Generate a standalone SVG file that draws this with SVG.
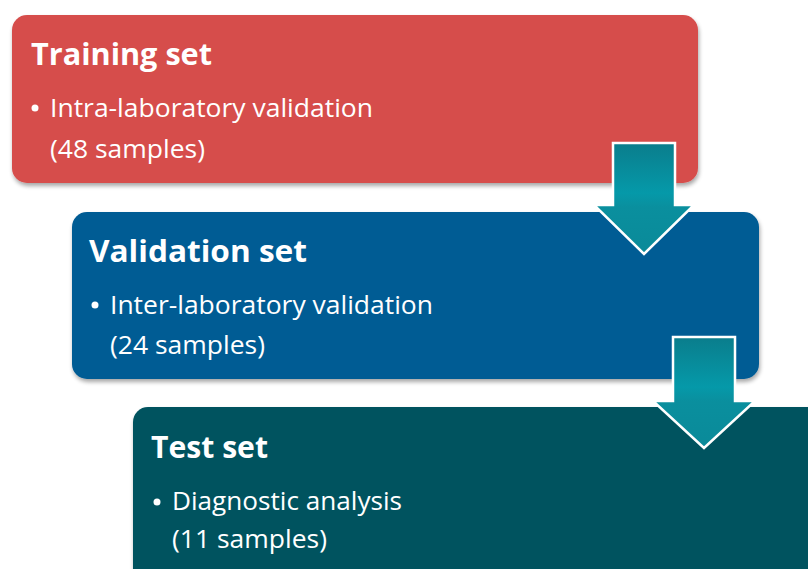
<svg xmlns="http://www.w3.org/2000/svg" width="808" height="569" viewBox="0 0 808 569">
  <defs>
    <filter id="shadow" x="-5%" y="-10%" width="110%" height="130%">
      <feGaussianBlur in="SourceAlpha" stdDeviation="2"/>
      <feOffset dx="1" dy="3" result="b"/>
      <feComponentTransfer><feFuncA type="linear" slope="0.35"/></feComponentTransfer>
      <feMerge><feMergeNode/><feMergeNode in="SourceGraphic"/></feMerge>
    </filter>
    <linearGradient id="arrowGrad" x1="0" y1="0" x2="0" y2="1">
      <stop offset="0" stop-color="#0a7d8c"/>
      <stop offset="0.45" stop-color="#0599a9"/>
      <stop offset="0.58" stop-color="#0a8f9e"/>
      <stop offset="1" stop-color="#0a8a99"/>
    </linearGradient>
    <style>
      .title { font-family: "Open Sans", "Liberation Sans", sans-serif; font-weight: bold; font-size: 31px; fill: #ffffff; }
      .body { font-family: "Open Sans", "Liberation Sans", sans-serif; font-size: 26px; fill: #ffffff; }
      .arrow { fill: url(#arrowGrad); stroke: #ffffff; stroke-width: 2.5; stroke-linejoin: miter; }
    </style>
  </defs>
  <rect width="808" height="569" fill="#ffffff"/>

  <g id="training-set">
    <rect x="12" y="15" width="686" height="168" rx="15" fill="#d64d4b" filter="url(#shadow)"/>
    <text class="title" x="31" y="65" textLength="181" lengthAdjust="spacingAndGlyphs">Training set</text>
    <circle cx="35" cy="108" r="3.5" fill="#ffffff"/>
    <text class="body" x="50" y="117" textLength="323" lengthAdjust="spacingAndGlyphs">Intra-laboratory validation</text>
    <text class="body" x="50" y="158" textLength="155" lengthAdjust="spacingAndGlyphs">(48 samples)</text>
  </g>

  <g id="validation-set">
    <rect x="72" y="212" width="687" height="167" rx="15" fill="#045b94" filter="url(#shadow)"/>
    <text class="title" x="89" y="262" textLength="218" lengthAdjust="spacingAndGlyphs">Validation set</text>
    <circle cx="95" cy="305" r="3.5" fill="#ffffff"/>
    <text class="body" x="110" y="314" textLength="323" lengthAdjust="spacingAndGlyphs">Inter-laboratory validation</text>
    <text class="body" x="110" y="354" textLength="155" lengthAdjust="spacingAndGlyphs">(24 samples)</text>
  </g>

  <g id="test-set">
    <rect x="133" y="407" width="700" height="200" rx="15" fill="#03535f" filter="url(#shadow)"/>
    <text class="title" x="151" y="458" textLength="117" lengthAdjust="spacingAndGlyphs">Test set</text>
    <circle cx="157" cy="502" r="3.5" fill="#ffffff"/>
    <text class="body" x="172" y="510" textLength="230" lengthAdjust="spacingAndGlyphs">Diagnostic analysis</text>
    <text class="body" x="172" y="548" textLength="155" lengthAdjust="spacingAndGlyphs">(11 samples)</text>
  </g>

  <g id="connectors">
    <polygon class="arrow" points="613,143 675,143 675,205 694,205 644,254 594,205 613,205"/>
    <polygon class="arrow" points="673,337 735,337 735,401 755,401 704,448 653,401 673,401"/>
  </g>
</svg>
